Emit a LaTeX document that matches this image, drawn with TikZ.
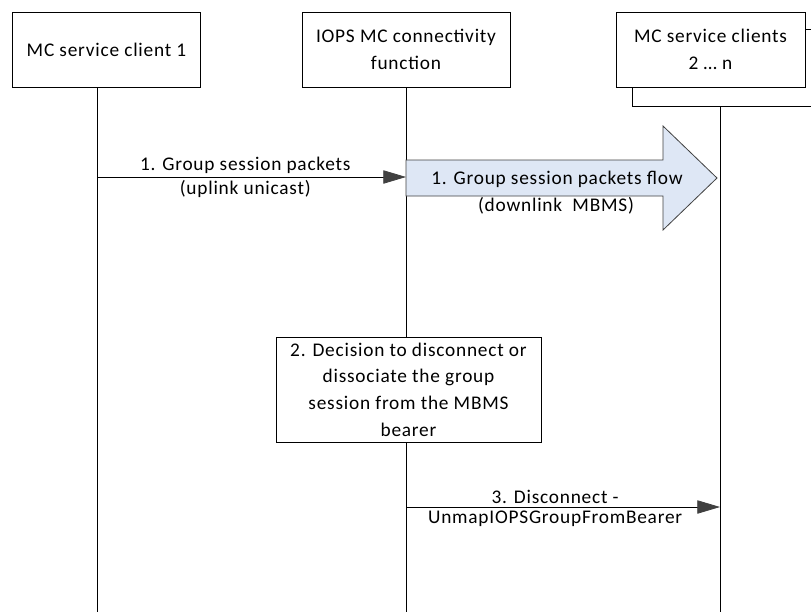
\documentclass[tikz,border=0pt]{standalone}
\usepackage{fontspec}
\setmainfont{Carlito}[LetterSpace=4]
\usetikzlibrary{arrows.meta}
\definecolor{flowblue}{RGB}{222,231,245}
\definecolor{tipgray}{RGB}{64,64,64}

\begin{document}
\begin{tikzpicture}[x=0.75pt, y=-0.75pt, line width=0.6pt,
    every node/.style={font=\fontsize{14.5}{20}\selectfont},
    actor/.style={draw, fill=white, align=center, minimum width=141pt, minimum height=56.25pt, inner sep=2pt},
    lifeline/.style={draw},
    msg/.style={-{Triangle[length=17pt, width=10pt, color=tipgray, fill=tipgray]}, draw},
    note/.style={draw, fill=white, align=center, minimum width=198.75pt, minimum height=78.75pt, inner sep=2pt}]
    \useasboundingbox (0,0) rectangle (811,612);
    % actors
    \node[actor, minimum height=57.75pt] (c3b) at (726,67.5) {};
    \node[actor] (c1) at (106.5,49.5) {MC service client 1};
    \node[actor, minimum width=156pt] (cf) at (406,49.5) {IOPS MC connectivity\\ function};
    \node[actor, minimum width=141.75pt] (c3) at (710.5,49.5) {MC service clients\\ 2 \dots\ n};
    % lifelines
    \coordinate (c1top) at (97,87);   \coordinate (c1end) at (97,612);
    \coordinate (cftop) at (406,87);  \coordinate (cfend) at (406,612);
    \coordinate (c3top) at (720,106); \coordinate (c3end) at (720,612);
    \draw[lifeline] (c1top) -- (c1end);
    \draw[lifeline] (cftop) -- (cfend);
    \draw[lifeline] (c3top) -- (c3end);
    % 1. uplink
    \coordinate (m1a) at (97,177);
    \coordinate (m1b) at (406,177);
    \draw[msg] (m1a) -- (m1b)
        node[pos=0.48, above, yshift=-1pt] (m1t) {1. Group session packets}
        node[pos=0.48, below, yshift=1pt] (m1u) {(uplink unicast)};
    % 1. downlink flow
    \draw[fill=flowblue, draw=tipgray] (406,160) -- (663,160) -- (663,126) -- (717,178)
        -- (663,230) -- (663,196) -- (406,196) -- cycle;
    \node (f1t) at (557,179) {1. Group session packets flow};
    \node (f1u) at (556,206) {(downlink\ \ MBMS)};
    % 2. decision
    \node[note] (dec) at (408.5,389.5) {2. Decision to disconnect or\\ dissociate the group\\ session from the MBMS\\ bearer};
    % 3. disconnect
    \coordinate (m3a) at (406,507);
    \coordinate (m3b) at (720,507);
    \draw[msg] (m3a) -- (m3b)
        node[pos=0.475, above, yshift=-1pt] (m3t) {3. Disconnect -}
        node[pos=0.475, below, yshift=1pt] (m3u) {UnmapIOPSGroupFromBearer};
\end{tikzpicture}
\end{document}
